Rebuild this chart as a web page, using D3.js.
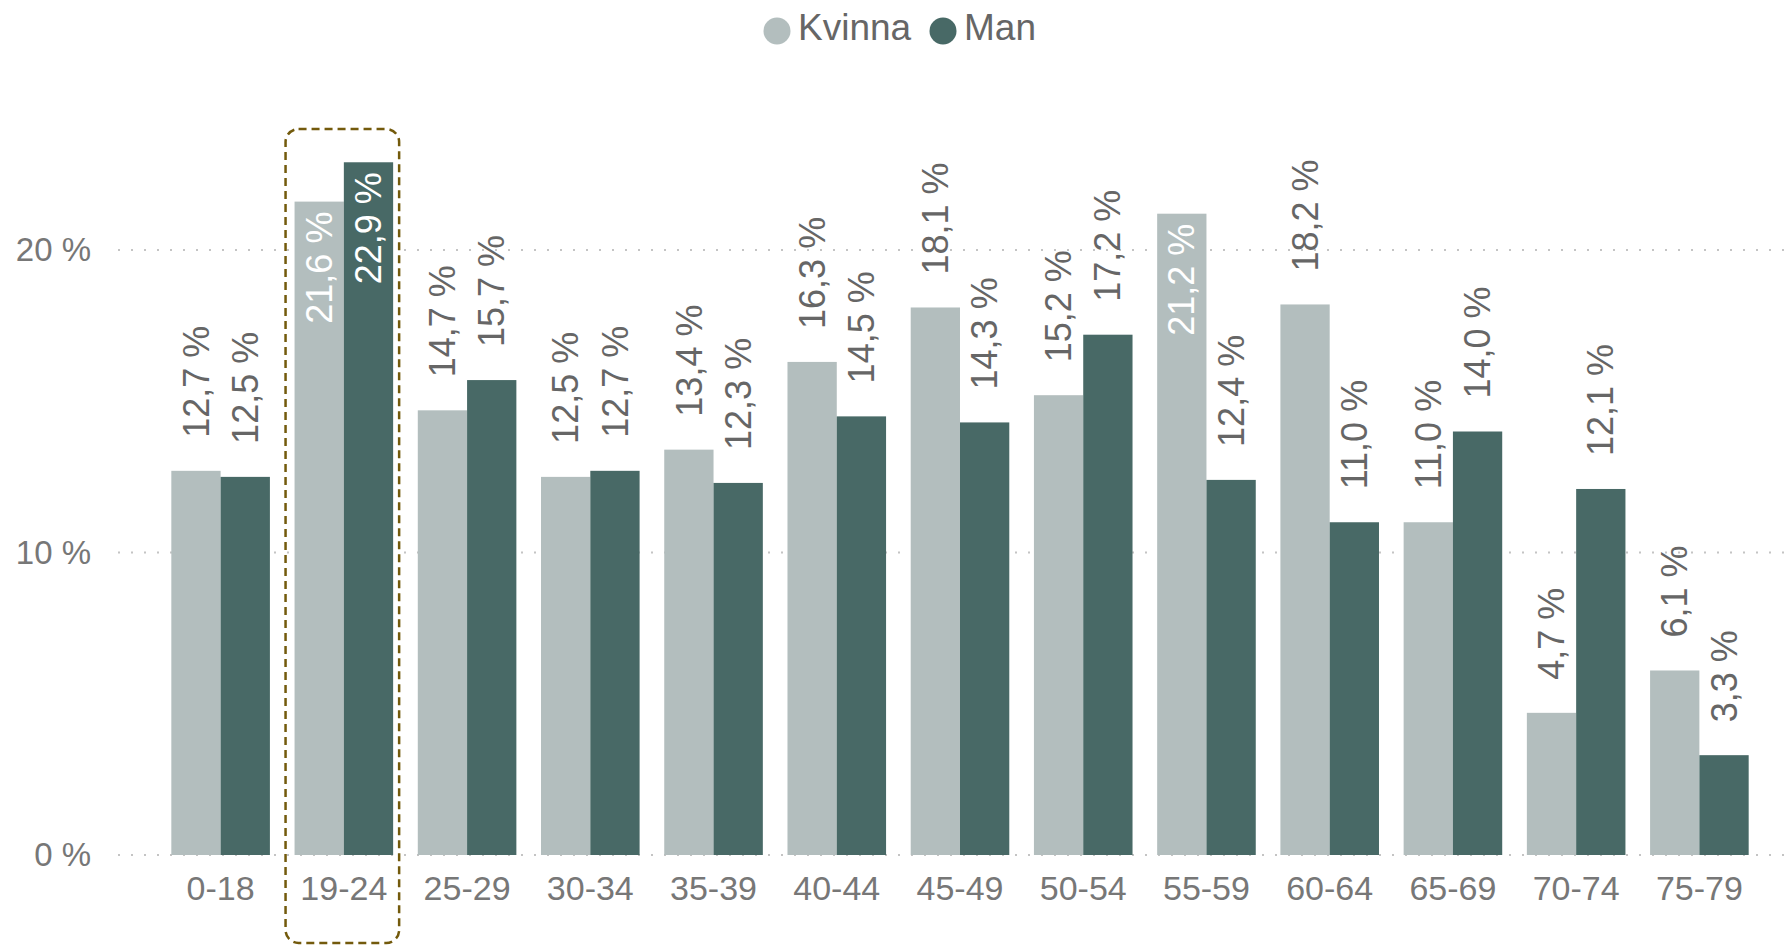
<!DOCTYPE html>
<html>
  <head>
    <meta charset="utf-8">
    <title>Kvinna / Man per åldersgrupp</title>
    <style>
      body { margin: 0; background: #fff; }
      text { font-family: "Liberation Sans", Arial, sans-serif; }
    </style>
  </head>
  <body>
    <div id="vis"></div>

    <script src="https://d3js.org/d3.v7.min.js"></script>
    <script>
      // data
      const ageGroups = ['0-18', '19-24', '25-29', '30-34', '35-39', '40-44', '45-49',
                         '50-54', '55-59', '60-64', '65-69', '70-74', '75-79']
      const kvinna = [12.7, 21.6, 14.7, 12.5, 13.4, 16.3, 18.1, 15.2, 21.2, 18.2, 11.0, 4.7, 6.1]
      const man    = [12.5, 22.9, 15.7, 12.7, 12.3, 14.5, 14.3, 17.2, 12.4, 11.0, 14.0, 12.1, 3.3]
      const seriesNames = ['Kvinna', 'Man']
      const yTicks = [0, 10, 20]
      const highlighted = '19-24'

      const COLORS = { Kvinna: '#b3bebe', Man: '#486966' }
      const W = 1788, H = 945

      const svg = d3.select('#vis')
        .append('svg')
        .attr('width', W)
        .attr('height', H)

      // scales
      const x = d3.scaleBand()
        .domain(ageGroups)
        .range([159, 1761])
        .paddingInner(0.2)
        .paddingOuter(0.1)
      const xSub = d3.scaleBand()
        .domain(seriesNames)
        .range([0, x.bandwidth()])
      const y = d3.scaleLinear()
        .domain([0, 24])
        .range([855, 129])

      const fmt = v => d3.format('.1f')(v).replace('.', ',') + ' %'

      // grid
      svg.append('g')
        .selectAll('line')
        .data(yTicks)
        .join('line')
        .attr('x1', 118)
        .attr('x2', W)
        .attr('y1', d => y(d))
        .attr('y2', d => y(d))
        .attr('stroke', '#c4c4c4')
        .attr('stroke-width', 2)
        .attr('stroke-dasharray', '2,11')

      // y axis (no domain, no ticks)
      svg.append('g')
        .attr('transform', 'translate(91,0)')
        .call(d3.axisLeft(y).tickValues(yTicks).tickSize(0).tickPadding(0).tickFormat(d => d + ' %'))
        .call(g => g.select('.domain').remove())
        .call(g => g.selectAll('text')
          .attr('font-size', 33)
          .attr('fill', '#777')
          .attr('font-family', '"Liberation Sans", Arial, sans-serif'))

      // x axis
      svg.append('g')
        .attr('transform', 'translate(0,868)')
        .call(d3.axisBottom(x).tickSize(0).tickPadding(0))
        .call(g => g.select('.domain').remove())
        .call(g => g.selectAll('text')
          .attr('font-size', 34)
          .attr('fill', '#777')
          .attr('dy', '0.95em')
          .attr('font-family', '"Liberation Sans", Arial, sans-serif'))

      // bars
      const rows = ageGroups.map((a, i) => ({ group: a, Kvinna: kvinna[i], Man: man[i] }))
      const groups = svg.append('g')
        .selectAll('g')
        .data(rows)
        .join('g')
        .attr('transform', d => `translate(${x(d.group)},0)`)

      const cells = groups.selectAll('g')
        .data(d => seriesNames.map(s => ({ key: s, value: d[s] })))
        .join('g')

      cells.append('rect')
        .attr('x', d => xSub(d.key))
        .attr('width', xSub.bandwidth())
        .attr('y', d => y(d.value))
        .attr('height', d => y(0) - y(d.value))
        .attr('fill', d => COLORS[d.key])

      // labels: outside above the bar, inside if it would run past the top
      const GAP_OUT = 33, GAP_IN = 10
      cells.append('text')
        .text(d => fmt(d.value))
        .attr('font-size', 36)
        .attr('dy', '0.35em')
        .each(function (d) {
          const len = this.getComputedTextLength()
          const cx = xSub(d.key) + xSub.bandwidth() / 2
          const top = y(d.value)
          const el = d3.select(this)
          if (top - GAP_OUT - len < y.range()[1]) {
            el.attr('text-anchor', 'end')
              .attr('fill', '#fff')
              .attr('transform', `translate(${cx},${top + GAP_IN}) rotate(-90)`)
          } else {
            el.attr('text-anchor', 'start')
              .attr('fill', '#666')
              .attr('transform', `translate(${cx},${top - GAP_OUT}) rotate(-90)`)
          }
        })

      // highlight box around one group
      svg.append('rect')
        .attr('x', x(highlighted) - 9)
        .attr('y', y.range()[1])
        .attr('width', x.bandwidth() + 15)
        .attr('height', 943 - y.range()[1])
        .attr('rx', 13)
        .attr('fill', 'none')
        .attr('stroke', '#735a0c')
        .attr('stroke-width', 2.5)
        .attr('stroke-dasharray', '8,5')

      // legend
      const legend = svg.append('g')
        .attr('transform', 'translate(777,31)')
      const legendX = [0, 166]
      seriesNames.forEach((s, i) => {
        const g = legend.append('g').attr('transform', `translate(${legendX[i]},0)`)
        g.append('circle')
          .attr('r', 13.5)
          .attr('fill', COLORS[s])
        g.append('text')
          .attr('x', 21)
          .attr('y', 9)
          .attr('font-size', 37)
          .attr('fill', '#666')
          .text(s)
      })
    </script>
  </body>
</html>
